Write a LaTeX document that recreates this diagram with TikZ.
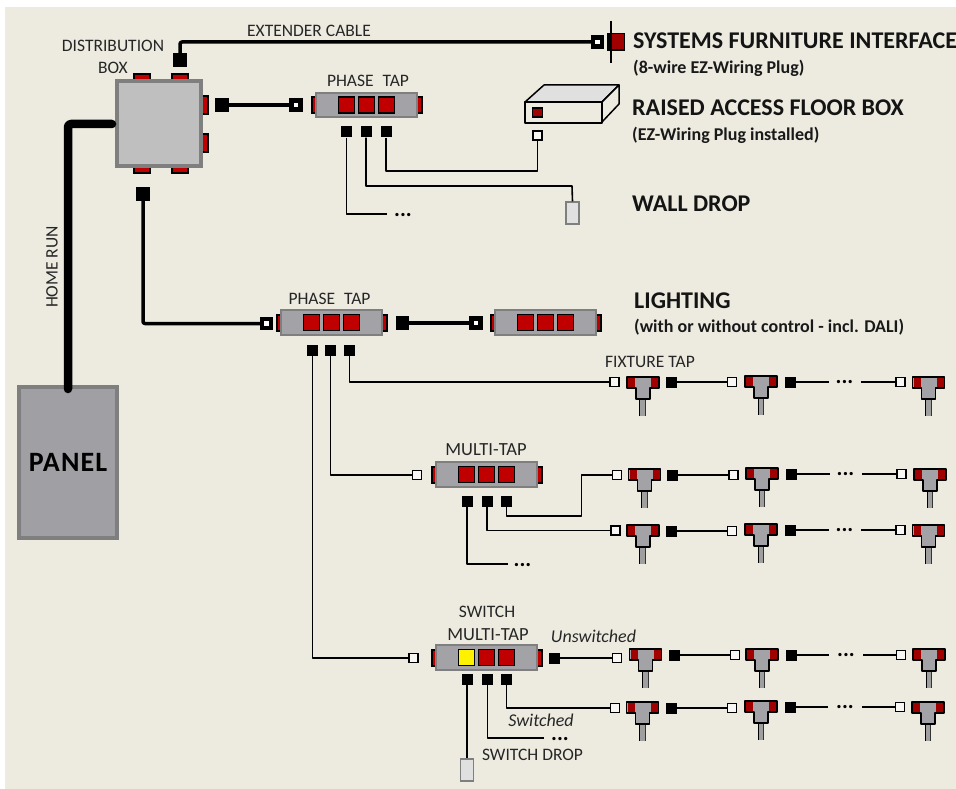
\documentclass[tikz,border=0pt]{standalone}
\usepackage{fontspec}
\setmainfont{Carlito}
\definecolor{bgc}{HTML}{EDEBE0}
\definecolor{redc}{HTML}{C00000}
\definecolor{dredc}{HTML}{A00000}
\definecolor{tapc}{HTML}{A3A3A7}
\definecolor{tapd}{HTML}{7F7F7F}
\definecolor{boxc}{HTML}{BFBFBF}
\definecolor{dropc}{HTML}{E0E0E0}
\definecolor{panc}{HTML}{A0A0A4}
\tikzset{x=1pt,y=-1pt,
 lab/.style={inner sep=0pt,text=black!85,font=\fontsize{17.5}{20}\selectfont,align=center},
 big/.style={inner sep=0pt,anchor=west,font=\fontsize{24}{28}\selectfont\bfseries,text=black!92},
 small/.style={inner sep=0pt,anchor=west,font=\fontsize{18}{20}\selectfont\bfseries,text=black!90},
 ital/.style={inner sep=0pt,font=\fontsize{18}{20}\selectfont\itshape,text=black!85},
 male/.style={fill=black,draw=none,minimum size=13.5pt,inner sep=0pt},
 malesm/.style={fill=black,draw=none,minimum size=11pt,inner sep=0pt},
 femsm/.style={fill=white!60!bgc,draw=black,line width=1.6pt,minimum size=9pt,inner sep=0pt},
 fembig/.style={fill=white,draw=black,line width=4.2pt,minimum size=9pt,inner sep=0pt},
 thin cable/.style={draw=black,line width=1.6pt,line join=round},
 fat cable/.style={draw=black,line width=3.5pt,line join=round,rounded corners=2pt},
 dots/.style={inner sep=0pt,font=\fontsize{22}{22}\selectfont\bfseries},
 dropbox/.style={draw=tapd,fill=dropc,line width=1.1pt,minimum width=13pt,minimum height=22pt,inner sep=0pt},
 slot/.style={draw=black,fill=redc,line width=1.7pt,minimum size=16pt,inner sep=0pt}
}
\newcommand{\taprow}[3]{% name, x centre, y centre
 \fill[black] (#2-56,#3-9) rectangle (#2+56,#3+9);
 \fill[redc] (#2-54,#3-7) rectangle (#2+54,#3+7);
 \node[draw=tapd,fill=tapc,line width=2pt,minimum width=101pt,minimum height=24.5pt,inner sep=0pt] (#1) at (#2,#3) {};
 \foreach \dx in {-20,0,20}{
  \node[slot] at (#2+\dx,#3) {};
 }
}
\newcommand{\fixt}[3]{% name, x centre, y top
 \begin{scope}[shift={(#2,#3)}]
 \fill[gray!75] (-3,20) rectangle (3,39);
 \draw[line width=.9pt,black] (-3,20) -- (-3,39);
 \draw[line width=.9pt,black!80] (2.7,20) -- (2.7,39);
 \draw[black,line width=1.7pt,line join=round,fill=tapc] (-16,0) -- (16,0) -- (16,11) -- (7,11) -- (7,22) -- (-7,22) -- (-7,11) -- (-16,11) -- cycle;
 \fill[dredc] (-15,1) rectangle (-8,10);
 \fill[dredc] (8,1) rectangle (15,10);
 \node[inner sep=0pt,minimum size=1pt] (#1) at (0,6) {};
 \end{scope}
}
\begin{document}
\begin{tikzpicture}
\useasboundingbox (0,0) rectangle (956,789);
\fill[white] (0,0) rectangle (956,789);
\fill[bgc] (5,7) rectangle (956,789);
% panel
\node[draw=tapd,fill=panc,line width=4pt,minimum width=98.5pt,minimum height=151pt,inner sep=0pt,font=\fontsize{28}{30}\selectfont\bfseries\addfontfeature{LetterSpace=4}] (panel) at (68,462.5) {PANEL};
% distribution box
\foreach \x in {142,180}{
 \fill[black] (\x-9,73) rectangle (\x+9,90);
 \fill[redc] (\x-7,75) rectangle (\x+7,90);
 \fill[black] (\x-9,160) rectangle (\x+9,174.5);
 \fill[redc] (\x-7,160) rectangle (\x+7,172.5);
}
\foreach \y in {105,143}{
 \fill[black] (195,\y-10) rectangle (209,\y+10);
 \fill[redc] (195,\y-8) rectangle (207,\y+8);
}
\node[draw=tapd,fill=boxc,line width=4pt,minimum width=84pt,minimum height=85pt,inner sep=0pt] (dbox) at (159,123.5) {};
\draw[line width=8.5pt,line join=round,rounded corners=3pt,line cap=round] ([yshift=-4pt]panel.north) -- (68,124) -- ([xshift=-3pt]dbox.west |- 0,124);
\node[lab,rotate=90] (hr) at (52,267) {HOME RUN};
\node[lab] (dl) at (113,46) {DISTRIBUTION};
\node[lab] (dl2) at (113,68) {BOX};
\node[lab] (ext) at (309,31) {EXTENDER CABLE};
% extender
\node[male] (m1) at (180,60) {};
\node[fembig] (f1) at (597.5,42) {};
\draw[fat cable] (m1.north) -- (180,42) -- (f1.west);
\node[draw=black,fill=dredc,line width=1.5pt,minimum size=16.5pt,inner sep=0pt] (sf) at (616,42) {};
\fill[black] (607,33) rectangle (611,51);
\draw[line width=1.4pt] (611,21) -- (611,63);
\node[big] (t1) at (633,41) {SYSTEMS FURNITURE INTERFACE};
\node[small] (t2) at (633,68) {(8-wire EZ-Wiring Plug)};
% top phase tap
\node[male] (m2) at (222,105) {};
\node[fembig] (f2) at (296,105) {};
\draw[fat cable] (m2) -- (f2);
\taprow{pt1}{366.5}{105}
\node[lab] at (368,81) {PHASE\hspace{5pt} TAP};
\node[malesm] (a1) at (346.5,132) {};
\node[malesm] (a2) at (366,132) {};
\node[malesm] (a3) at (386,132) {};
% floor box
\draw[line width=1.5pt,fill=dropc,line join=round] (525,102) -- (544,85) -- (619,85) -- (602,102) -- cycle;
\draw[line width=1.5pt,fill=bgc,line join=round] (602,102) -- (619,85) -- (619,104) -- (602,122) -- cycle;
\draw[line width=1.5pt,fill=bgc,line join=round] (525,102) rectangle (602,123);
\node[draw=black,fill=dredc,line width=1.4pt,minimum width=10pt,minimum height=9pt,inner sep=0pt] at (537.5,112.5) {};
\node[femsm] (f3) at (537.5,135.5) {};
\draw[thin cable] (a3.south) |- (537.5,171) -- (f3.south);
\node[big] at (632,108) {RAISED ACCESS FLOOR BOX};
\node[small] at (632,135) {(EZ-Wiring Plug installed)};
% wall drop
\node[dropbox] (wd) at (572.5,213) {};
\draw[thin cable] (a2.south) |- (572,186) -- (wd.north);
\draw[thin cable] (a1.south) |- (387,214);
\node[dots] at (403,215) {...};
\node[big] at (632,204) {WALL DROP};
% main lighting
\node[male] (m3) at (143,194) {};
\node[fembig] (f4) at (266.5,323.5) {};
\draw[fat cable] (m3.south) |- (f4.west);
\taprow{pt2}{331.5}{322.5}
\node[lab] at (329.5,299) {PHASE\hspace{5pt} TAP};
\node[male] (m4) at (402.5,323) {};
\node[fembig] (f5) at (476,323) {};
\draw[fat cable] (m4) -- (f5);
\taprow{pt3}{545.5}{322.5}
\node[big] at (634,301) {LIGHTING};
\node[small] at (634,327) {(with or without control - incl. DALI)};
\node[malesm] (b1) at (312.5,350) {};
\node[malesm] (b2) at (330.5,350) {};
\node[malesm] (b3) at (349.5,350) {};
% row 1
\node[lab] at (650,362) {FIXTURE TAP};
\node[femsm] (c1) at (614.5,382) {};
\draw[thin cable] (b3.south) |- (c1.west);
\fixt{x1}{642.7}{377}
\node[malesm] (c2) at (671,382) {};
\node[femsm] (c3) at (732,382) {};
\draw[thin cable] (c2) -- (c3);
\fixt{x2}{761}{376}
\node[malesm] (c4) at (790.5,382) {};
\coordinate (c5) at (829,382);
\draw[thin cable] (c4) -- (c5);
\node[dots] at (844.5,382) {...};
\coordinate (c6) at (861,382);
\node[femsm] (c7) at (900.5,382) {};
\draw[thin cable] (c6) -- (c7);
\fixt{x3}{928.5}{377}
% multi tap
\node[femsm] (d1) at (417,475) {};
\draw[thin cable] (b2.south) |- (d1.west);
\taprow{mt}{486.5}{474.5}
\node[lab,font=\fontsize{18.5}{20}\selectfont] at (486,450) {MULTI-TAP};
\node[malesm] (d2) at (467,501.5) {};
\node[malesm] (d3) at (487,501.5) {};
\node[malesm] (d4) at (506.5,501.5) {};
\draw[thin cable] (d2.south) |- (508,564);
\node[dots] at (522.5,565) {...};
% row 2
\node[femsm] (e1) at (617,475) {};
\draw[thin cable] (d4.south) |- (581.5,516) |- (e1.west);
\fixt{x4}{644.5}{469}
\node[malesm] (e2) at (672,475) {};
\node[femsm] (e3) at (733.5,475) {};
\draw[thin cable] (e2) -- (e3);
\fixt{x5}{762}{468}
\node[malesm] (e4) at (791.5,474) {};
\coordinate (e5) at (830,474);
\draw[thin cable] (e4) -- (e5);
\node[dots] at (845.5,474) {...};
\coordinate (e6) at (862,474);
\node[femsm] (e7) at (901.5,474) {};
\draw[thin cable] (e6) -- (e7);
\fixt{x6}{930}{469}
% row 3
\node[femsm] (g1) at (615.5,530.5) {};
\draw[thin cable] (d3.south) |- (g1.west);
\fixt{x7}{642.7}{525}
\node[malesm] (g2) at (671,531) {};
\node[femsm] (g3) at (732,531) {};
\draw[thin cable] (g2) -- (g3);
\fixt{x8}{761}{524}
\node[malesm] (g4) at (790.5,530) {};
\coordinate (g5) at (829,530);
\draw[thin cable] (g4) -- (g5);
\node[dots] at (844.5,530) {...};
\coordinate (g6) at (861,530);
\node[femsm] (g7) at (900.5,530) {};
\draw[thin cable] (g6) -- (g7);
\fixt{x9}{928.5}{525}
% switch multi tap
\node[femsm] (h1) at (413.5,658) {};
\draw[thin cable] (b1.south) |- (h1.west);
\taprow{smt}{486.5}{657.5}
\node[draw=black,fill=yellow,line width=1.7pt,minimum size=16pt,inner sep=0pt] at (466.5,657.5) {};
\node[lab] at (487,612) {SWITCH};
\node[lab,font=\fontsize{18.5}{20}\selectfont] at (488,635) {MULTI-TAP};
\node[ital] at (593.5,636) {Unswitched};
\node[malesm] (h2) at (554.5,658) {};
\node[femsm] (h3) at (617,658) {};
\draw[thin cable] (h2) -- (h3);
\fixt{x10}{645.5}{649}
\node[malesm] (h4) at (674.5,655) {};
\node[femsm] (h5) at (735,655) {};
\draw[thin cable] (h4) -- (h5);
\fixt{x11}{762}{649}
\node[malesm] (h6) at (791,655) {};
\coordinate (h7) at (829,655);
\draw[thin cable] (h6) -- (h7);
\node[dots] at (846,655) {...};
\coordinate (h8) at (863,655);
\node[femsm] (h9) at (901,655) {};
\draw[thin cable] (h8) -- (h9);
\fixt{x12}{929}{649}
% switch row lower
\node[malesm] (k1) at (467,679.5) {};
\node[malesm] (k2) at (487.5,679.5) {};
\node[malesm] (k3) at (506.5,679.5) {};
\node[femsm] (k4) at (615,708) {};
\draw[thin cable] (k3.south) |- (k4.west);
\fixt{x13}{642.5}{702}
\node[malesm] (k5) at (671,708) {};
\node[femsm] (k6) at (732,708) {};
\draw[thin cable] (k5) -- (k6);
\fixt{x14}{761}{701}
\node[malesm] (k7) at (790,707) {};
\coordinate (k8) at (828,707);
\draw[thin cable] (k7) -- (k8);
\node[dots] at (845,707) {...};
\coordinate (k9) at (862,707);
\node[femsm] (k10) at (900,707) {};
\draw[thin cable] (k9) -- (k10);
\fixt{x15}{928}{702}
\node[ital] at (541,720) {Switched};
\draw[thin cable] (k2.south) |- (544,738);
\node[dots] at (560,739) {...};
\node[dropbox] (sd) at (467,770) {};
\draw[thin cable] (k1.south) -- (sd.north);
\node[lab] at (532.5,755) {SWITCH DROP};
\end{tikzpicture}
\end{document}
